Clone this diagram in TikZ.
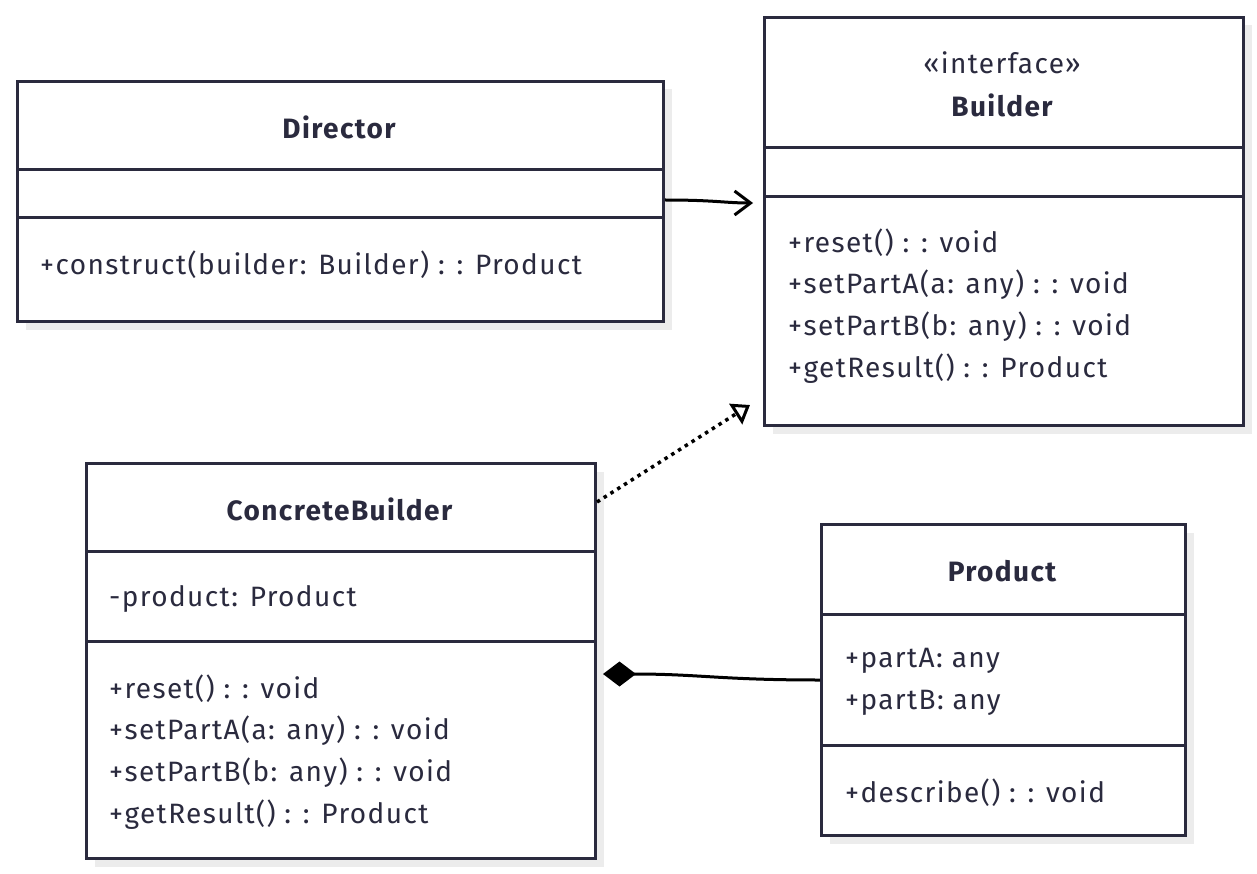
\documentclass[tikz,border=0pt]{standalone}
\usepackage{fontspec}
\setmainfont[LetterSpace=5]{Fira Sans}
\usetikzlibrary{arrows.meta,shadows}
\definecolor{ink}{RGB}{42,42,62}
\definecolor{shade}{RGB}{236,236,236}
\begin{document}
\begin{tikzpicture}[x=1pt,y=-1pt,
  box/.style={draw=ink, line width=3pt, fill=white, inner sep=0pt, anchor=north west,
    drop shadow={shadow xshift=8pt, shadow yshift=-8pt, fill=shade, opacity=1}},
  divider/.style={draw=ink, line width=3pt},
  member/.style={anchor=west, inner sep=0pt, text=ink, font=\fontsize{28}{33}\selectfont},
  stereo/.style={anchor=center, inner sep=0pt, text=ink, font=\fontsize{28}{33}\selectfont},
  title/.style={anchor=center, inner sep=0pt, text=ink, font=\fontsize{28}{33}\selectfont\bfseries},
  link/.style={line width=3pt, draw=black}]
\useasboundingbox (0,0) rectangle (1257,874);

% Director
\node[box, minimum width=646pt, minimum height=240pt] (director) at (16,80) {};
\draw[divider] (16,170) -- (662,170);
\draw[divider] (16,218) -- (662,218);
\node[title] (dirT) at (339,127) {Director};
\node[member] (dirM1) at (40,265) {+construct(builder: Builder) : : Product};

% Builder
\node[box, minimum width=479pt, minimum height=408pt] (builder) at (763,16) {};
\draw[divider] (763,148) -- (1242,148);
\draw[divider] (763,197) -- (1242,197);
\node[stereo] (bS) at (1002,63) {«interface»};
\node[title] (bT) at (1002,105) {Builder};
\node[member] (bM1) at (788,243) {+reset() : : void};
\node[member] (bM2) at (788,285) {+setPartA(a: any) : : void};
\node[member] (bM3) at (788,327) {+setPartB(b: any) : : void};
\node[member] (bM4) at (788,369) {+getResult() : : Product};

% ConcreteBuilder
\node[box, minimum width=509pt, minimum height=395pt] (concrete) at (85,462) {};
\draw[divider] (85,551) -- (594,551);
\draw[divider] (85,641) -- (594,641);
\node[title] (cT) at (339.5,509) {ConcreteBuilder};
\node[member] (cA1) at (109,599) {-product: Product};
\node[member] (cM1) at (109,689) {+reset() : : void};
\node[member] (cM2) at (109,731) {+setPartA(a: any) : : void};
\node[member] (cM3) at (109,773) {+setPartB(b: any) : : void};
\node[member] (cM4) at (109,815) {+getResult() : : Product};

% Product
\node[box, minimum width=364pt, minimum height=311pt] (product) at (820,523) {};
\draw[divider] (820,614) -- (1184,614);
\draw[divider] (820,745) -- (1184,745);
\node[title] (pT) at (1002,571) {Product};
\node[member] (pA1) at (845,661) {+partA: any};
\node[member] (pA2) at (845,703) {+partB: any};
\node[member] (pM1) at (845,793) {+describe() : : void};

% Connectors
\draw[link, -{Straight Barb[length=16pt,width=24pt]}]
  (director.east |- 0,200) .. controls (715,200) and (725,203) .. ([xshift=-10pt]builder.west |- 0,203);
\draw[link, line width=3.5pt, dash pattern=on 3.5pt off 4.5pt, -{Triangle[open,length=17pt,width=24pt,line width=3pt]}]
  (concrete.east |- 0,502) -- ([shift={(-13,-22)}]builder.south west);
\draw[link, {Diamond[length=33pt,width=25pt]}-]
  ([xshift=6pt]concrete.east |- 0,674) .. controls (700,674) and (720,680) .. (product.west |- 0,680);
\end{tikzpicture}
\end{document}
